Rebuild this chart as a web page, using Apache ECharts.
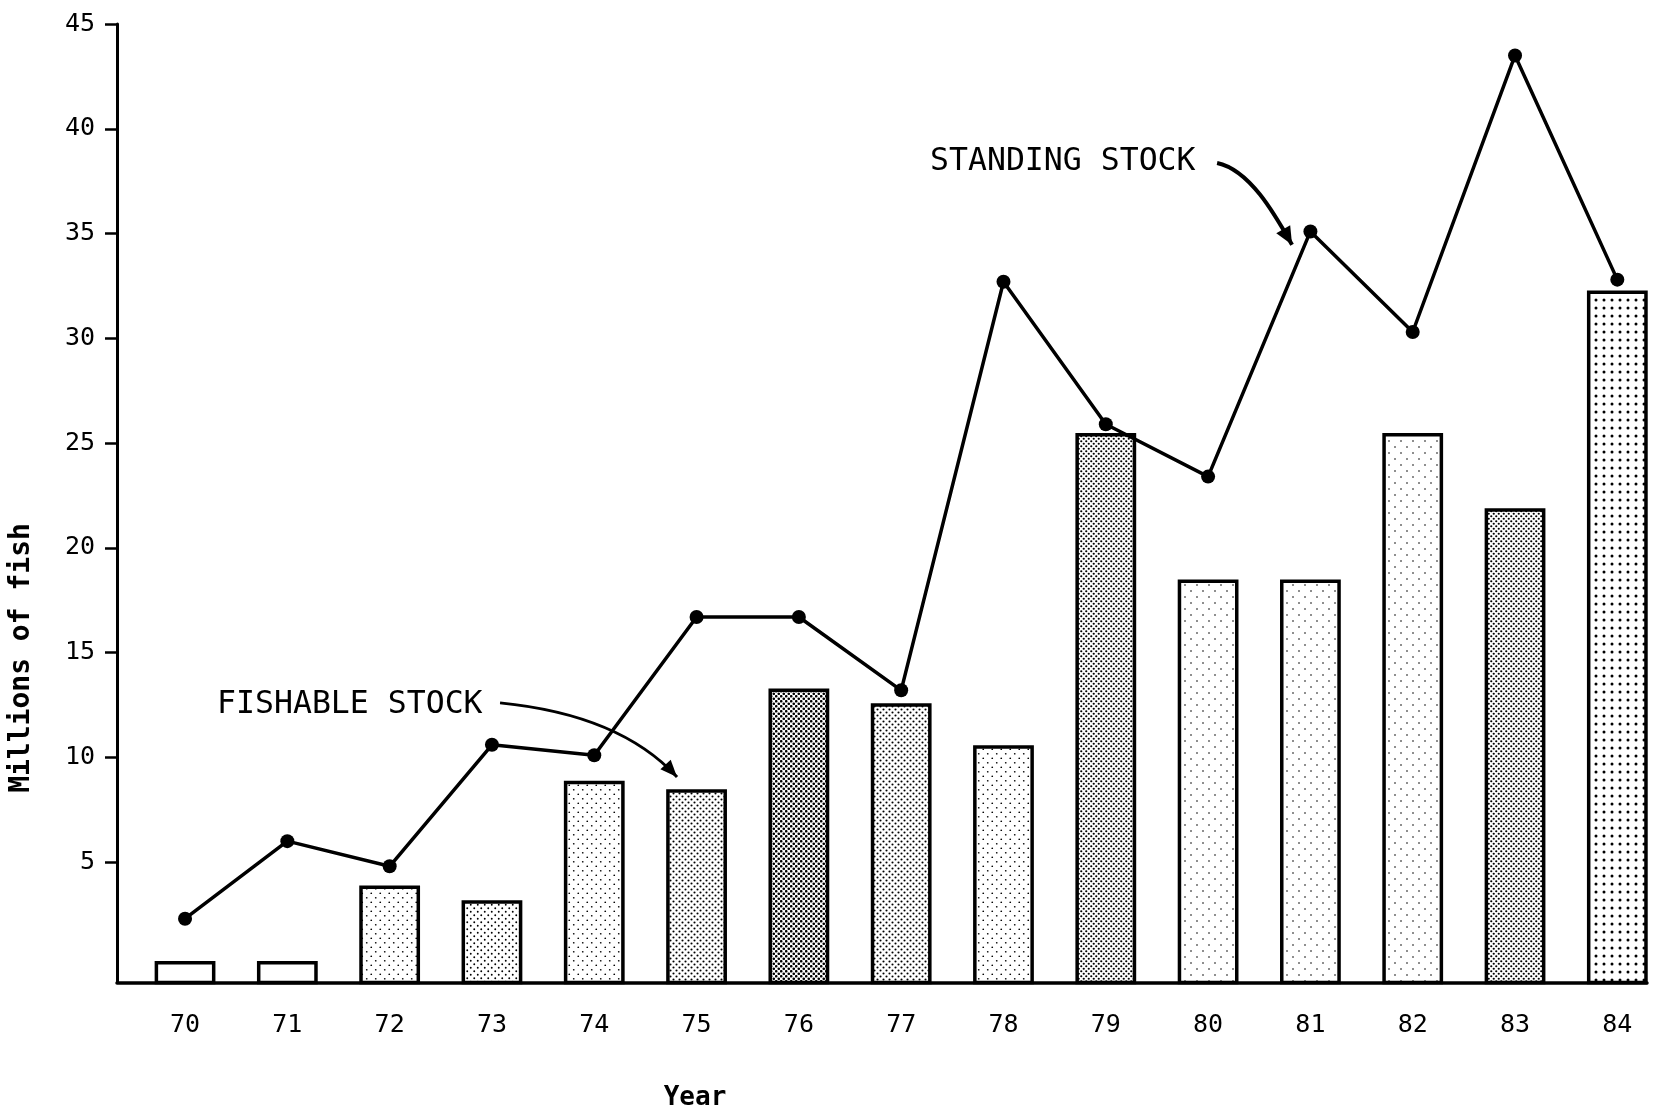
<!DOCTYPE html>
<html>
<head>
<meta charset="utf-8">
<script src="https://cdn.jsdelivr.net/npm/echarts@6/dist/echarts.min.js"></script>
<style>
html,body{margin:0;padding:0;background:#fff;}
#chart{width:1655px;height:1117px;}
</style>
</head>
<body>
<div id="chart"></div>
<script>
// ---- data ----
const years = [70, 71, 72, 73, 74, 75, 76, 77, 78, 79, 80, 81, 82, 83, 84];
const fishableStock = [0.2, 0.2, 3.8, 3.1, 8.8, 8.4, 13.2, 12.5, 10.5, 25.4, 18.4, 18.4, 25.4, 21.8, 32.2];
const standingStock = [2.3, 6.0, 4.8, 10.6, 10.1, 16.7, 16.7, 13.2, 32.7, 25.9, 23.4, 35.1, 30.3, 43.5, 32.8];
const yTickValues = [5, 10, 15, 20, 25, 30, 35, 40, 45];

// ---- styles ----
const barTextures = ['none','none','light','medium','light','dense','darkest','dense','light','darker','sparse','sparse','sparse','darker','grid'];
const FONT = "'DejaVu Sans Mono', monospace";
const Y_MIN = -0.75, Y_MAX = 45;
const X_MIN = 69.335, X_MAX = 84.29;
const BAR_W = 0.56;

function makePattern(kind) {
  const specs = {
    none:    null,
    sparse:  {s: 12, r: 0.8},
    light:   {s: 9,  r: 0.85},
    medium:  {s: 7,  r: 0.95},
    dense:   {s: 6,  r: 1.05},
    darker:  {s: 5,  r: 1.1},
    darkest: {s: 5,  r: 1.3},
    grid:    {s: 8,  r: 1.5, grid: true}
  };
  const sp = specs[kind];
  if (!sp) return '#ffffff';
  const c = document.createElement('canvas');
  c.width = sp.s; c.height = sp.s;
  const ctx = c.getContext('2d');
  ctx.fillStyle = '#fff';
  ctx.fillRect(0, 0, sp.s, sp.s);
  ctx.fillStyle = '#000';
  const pts = sp.grid ? [[sp.s / 2, sp.s / 2]] : [[sp.s / 4, sp.s / 4], [3 * sp.s / 4, 3 * sp.s / 4]];
  pts.forEach(p => { ctx.beginPath(); ctx.arc(p[0], p[1], sp.r, 0, Math.PI * 2); ctx.fill(); });
  return {image: c, repeat: 'repeat'};
}
const barFills = barTextures.map(makePattern);

const chart = echarts.init(document.getElementById('chart'), null, {renderer: 'canvas'});

const option = {
  backgroundColor: '#ffffff',
  animation: false,
  grid: {left: 117, right: 8, top: 24, bottom: 134.4, containLabel: false},
  xAxis: {
    type: 'value', min: X_MIN, max: X_MAX,
    axisLine: {show: true, onZero: false, lineStyle: {color: '#000', width: 3.5}},
    axisTick: {show: false},
    splitLine: {show: false},
    axisLabel: {
      customValues: years, margin: 30,
      color: '#000', fontFamily: FONT, fontSize: 25,
      formatter: v => String(v)
    }
  },
  yAxis: {
    type: 'value', min: Y_MIN, max: Y_MAX,
    axisLine: {show: true, onZero: false, lineStyle: {color: '#000', width: 3}},
    axisTick: {show: true, inside: false, length: 12, customValues: yTickValues, lineStyle: {color: '#000', width: 2.5}},
    splitLine: {show: false},
    axisLabel: {customValues: yTickValues, margin: 22, color: '#000', fontFamily: FONT, fontSize: 25}
  },
  series: [
    {
      name: 'Fishable stock',
      type: 'custom',
      data: years.map((y, i) => [y, fishableStock[i]]),
      encode: {x: 0, y: 1},
      z: 2,
      renderItem: function (params, api) {
        const x = api.value(0), v = api.value(1);
        const top = api.coord([x, v]);
        const bot = api.coord([x, Y_MIN]);
        const w = api.size([BAR_W, 0])[0];
        return {
          type: 'rect',
          shape: {x: top[0] - w / 2, y: top[1], width: w, height: bot[1] - top[1]},
          style: {fill: barFills[params.dataIndex], stroke: '#000', lineWidth: 3.5}
        };
      }
    },
    {
      name: 'Standing stock',
      type: 'line',
      data: years.map((y, i) => [y, standingStock[i]]),
      z: 5,
      symbol: 'circle',
      symbolSize: 14,
      lineStyle: {color: '#000', width: 3.5},
      itemStyle: {color: '#000'}
    }
  ]
};
chart.setOption(option);

// ---- annotations anchored in data space ----
const P = (x, y) => chart.convertToPixel({gridIndex: 0}, [x, y]);
function arrowHead(tip, from, L, W) {
  const dx = tip[0] - from[0], dy = tip[1] - from[1];
  const len = Math.hypot(dx, dy);
  const ux = dx / len, uy = dy / len;
  const nx = -uy, ny = ux;
  return [tip, [tip[0] - ux * L + nx * W, tip[1] - uy * L + ny * W], [tip[0] - ux * L - nx * W, tip[1] - uy * L - ny * W]];
}

const fText = P(70.313, 12.50);
const f0 = P(73.079, 12.60), fc = P(74.252, 12.03), f1 = P(74.809, 9.06);
const sText = P(77.282, 38.42);
const s0 = P(80.088, 38.37), sc1 = P(80.410, 38.04), sc2 = P(80.655, 35.89), s1 = P(80.821, 34.46);

const annoStyle = {fill: '#000', fontFamily: FONT, fontSize: 31.5, verticalAlign: 'middle', align: 'left'};

chart.setOption({
  graphic: [
    {type: 'text', x: fText[0], y: fText[1], style: Object.assign({text: 'FISHABLE STOCK'}, annoStyle), z: 10},
    {type: 'bezierCurve', shape: {x1: f0[0], y1: f0[1], cpx1: fc[0], cpy1: fc[1], x2: f1[0], y2: f1[1]},
     style: {stroke: '#000', lineWidth: 3, fill: null}, z: 10},
    {type: 'polygon', shape: {points: arrowHead(f1, fc, 17, 7)}, style: {fill: '#000'}, z: 10},

    {type: 'text', x: sText[0], y: sText[1], style: Object.assign({text: 'STANDING STOCK'}, annoStyle), z: 10},
    {type: 'bezierCurve', shape: {x1: s0[0], y1: s0[1], cpx1: sc1[0], cpy1: sc1[1], cpx2: sc2[0], cpy2: sc2[1], x2: s1[0], y2: s1[1]},
     style: {stroke: '#000', lineWidth: 4, fill: null}, z: 10},
    {type: 'polygon', shape: {points: arrowHead(s1, sc2, 18, 8)}, style: {fill: '#000'}, z: 10},

    {type: 'text', x: 22, y: 658, rotation: Math.PI / 2,
     style: {text: 'Millions of fish', fill: '#000', fontFamily: FONT, fontSize: 28, fontWeight: 'bold', align: 'center', verticalAlign: 'middle'}},
    {type: 'text', x: 695, y: 1098,
     style: {text: 'Year', fill: '#000', fontFamily: FONT, fontSize: 26, fontWeight: 'bold', align: 'center', verticalAlign: 'middle'}}
  ]
});
</script>
</body>
</html>
